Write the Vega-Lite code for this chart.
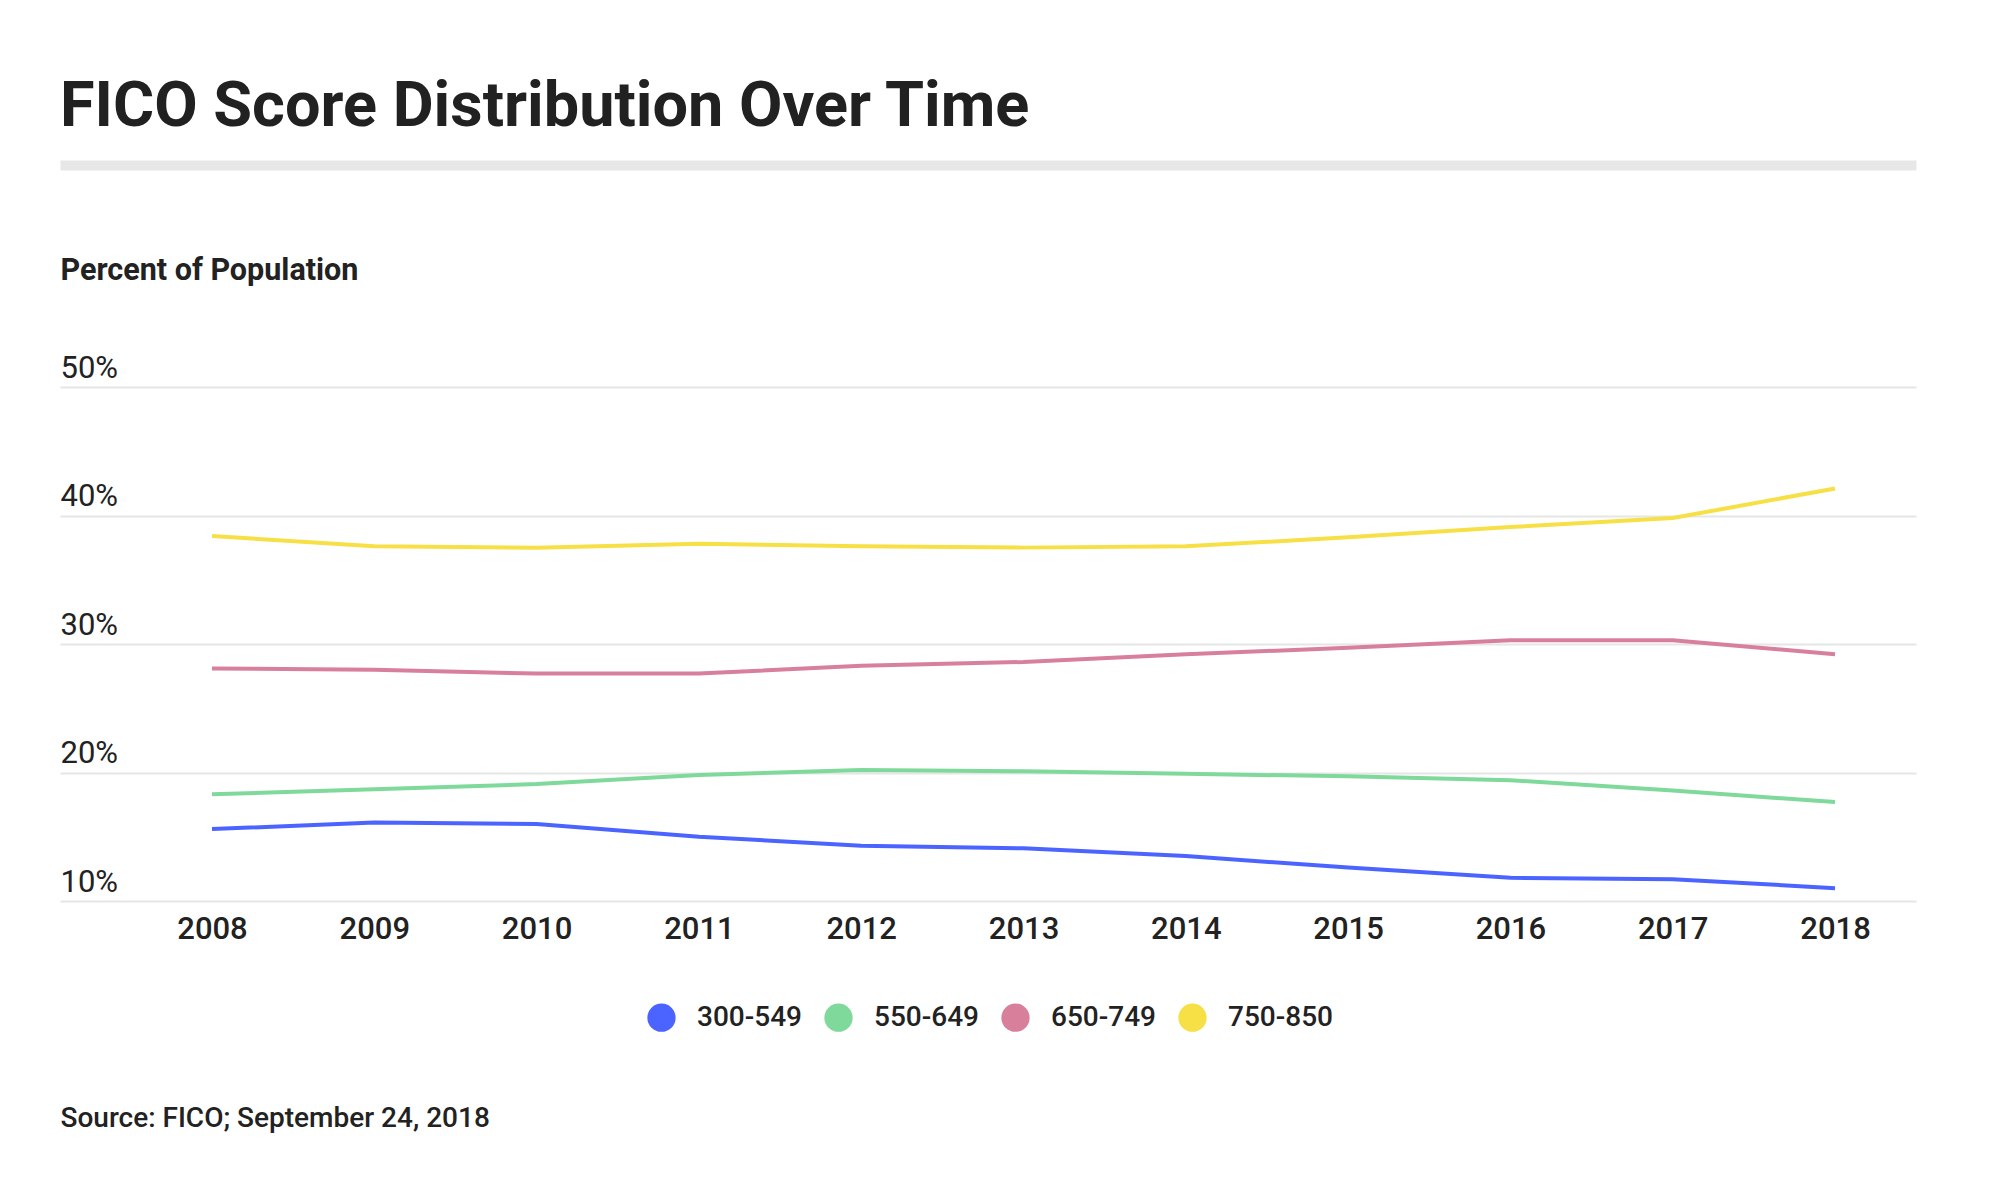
{
  "$schema": "https://vega.github.io/schema/vega-lite/v6.json",
  "width": 1856,
  "height": 514,
  "autosize": {"type": "none"},
  "padding": {"left": 60, "top": 387, "right": 84, "bottom": 297},
  "background": "white",
  "title": {
    "text": "FICO Score Distribution Over Time",
    "anchor": "start",
    "frame": "group",
    "font": "Roboto",
    "fontSize": 63,
    "fontWeight": 700,
    "color": "#212121",
    "baseline": "alphabetic",
    "offset": 33,
    "dy": 57
  },
  "config": {"view": {"stroke": null}, "font": "Roboto"},
  "data": {
    "values": [
      {"year": 2008, "range": "300-549", "pct": 15.6},
      {"year": 2009, "range": "300-549", "pct": 16.1},
      {"year": 2010, "range": "300-549", "pct": 16.0},
      {"year": 2011, "range": "300-549", "pct": 15.0},
      {"year": 2012, "range": "300-549", "pct": 14.3},
      {"year": 2013, "range": "300-549", "pct": 14.1},
      {"year": 2014, "range": "300-549", "pct": 13.5},
      {"year": 2015, "range": "300-549", "pct": 12.6},
      {"year": 2016, "range": "300-549", "pct": 11.8},
      {"year": 2017, "range": "300-549", "pct": 11.7},
      {"year": 2018, "range": "300-549", "pct": 11.0},
      {"year": 2008, "range": "550-649", "pct": 18.3},
      {"year": 2009, "range": "550-649", "pct": 18.7},
      {"year": 2010, "range": "550-649", "pct": 19.1},
      {"year": 2011, "range": "550-649", "pct": 19.8},
      {"year": 2012, "range": "550-649", "pct": 20.2},
      {"year": 2013, "range": "550-649", "pct": 20.1},
      {"year": 2014, "range": "550-649", "pct": 19.9},
      {"year": 2015, "range": "550-649", "pct": 19.7},
      {"year": 2016, "range": "550-649", "pct": 19.4},
      {"year": 2017, "range": "550-649", "pct": 18.6},
      {"year": 2018, "range": "550-649", "pct": 17.7},
      {"year": 2008, "range": "650-749", "pct": 28.1},
      {"year": 2009, "range": "650-749", "pct": 28.0},
      {"year": 2010, "range": "650-749", "pct": 27.7},
      {"year": 2011, "range": "650-749", "pct": 27.7},
      {"year": 2012, "range": "650-749", "pct": 28.3},
      {"year": 2013, "range": "650-749", "pct": 28.6},
      {"year": 2014, "range": "650-749", "pct": 29.2},
      {"year": 2015, "range": "650-749", "pct": 29.7},
      {"year": 2016, "range": "650-749", "pct": 30.3},
      {"year": 2017, "range": "650-749", "pct": 30.3},
      {"year": 2018, "range": "650-749", "pct": 29.2},
      {"year": 2008, "range": "750-850", "pct": 38.4},
      {"year": 2009, "range": "750-850", "pct": 37.6},
      {"year": 2010, "range": "750-850", "pct": 37.5},
      {"year": 2011, "range": "750-850", "pct": 37.8},
      {"year": 2012, "range": "750-850", "pct": 37.6},
      {"year": 2013, "range": "750-850", "pct": 37.5},
      {"year": 2014, "range": "750-850", "pct": 37.6},
      {"year": 2015, "range": "750-850", "pct": 38.3},
      {"year": 2016, "range": "750-850", "pct": 39.1},
      {"year": 2017, "range": "750-850", "pct": 39.8},
      {"year": 2018, "range": "750-850", "pct": 42.1}
    ]
  },
  "layer": [
    {
      "mark": {"type": "line", "strokeWidth": 4},
      "encoding": {
        "x": {
          "field": "year",
          "type": "quantitative",
          "scale": {"domain": [2007.0635, 2018.499], "nice": false, "zero": false},
          "axis": {
            "orient": "bottom",
            "values": [2008, 2009, 2010, 2011, 2012, 2013, 2014, 2015, 2016, 2017, 2018],
            "format": "d",
            "grid": false,
            "domain": false,
            "ticks": false,
            "tickSize": 0,
            "labelPadding": 13,
            "labelFlush": false,
            "labelFont": "Roboto",
            "labelFontSize": 31,
            "labelFontWeight": 500,
            "labelColor": "#222222",
            "title": "Source: FICO; September 24, 2018",
            "titleFont": "Roboto",
            "titleFontSize": 28,
            "titleFontWeight": 500,
            "titleColor": "#222222",
            "titleX": 0,
            "titleY": 225,
            "titleAlign": "left",
            "titleAnchor": "start",
            "titleBaseline": "alphabetic"
          }
        },
        "y": {
          "field": "pct",
          "type": "quantitative",
          "scale": {"domain": [10, 50], "nice": false, "zero": false},
          "axis": {
            "values": [10, 20, 30, 40, 50],
            "labelExpr": "datum.value + '%'",
            "grid": true,
            "gridColor": "#e6e6e6",
            "gridWidth": 2,
            "domain": false,
            "ticks": false,
            "tickSize": 0,
            "labelAlign": "left",
            "labelBaseline": "alphabetic",
            "labelPadding": 0,
            "labelOffset": -10,
            "labelFont": "Roboto",
            "labelFontSize": 31,
            "labelFontWeight": 400,
            "labelColor": "#222222",
            "title": "Percent of Population",
            "titleAngle": 0,
            "titleAlign": "left",
            "titleBaseline": "alphabetic",
            "titleX": 0,
            "titleY": -108,
            "titleFont": "Roboto",
            "titleFontSize": 30.5,
            "titleFontWeight": 700,
            "titleColor": "#222222"
          }
        },
        "color": {
          "field": "range",
          "type": "nominal",
          "scale": {
            "domain": ["300-549", "550-649", "650-749", "750-850"],
            "range": ["#4c64ff", "#7fd99a", "#d87f9c", "#f6e045"]
          },
          "legend": {
            "orient": "none",
            "legendX": 587,
            "legendY": 616,
            "direction": "horizontal",
            "title": null,
            "symbolType": "circle",
            "symbolSize": 800,
            "symbolStrokeWidth": 0,
            "symbolOpacity": 1,
            "labelFont": "Roboto",
            "labelFontSize": 28,
            "labelFontWeight": 500,
            "labelColor": "#222222",
            "labelOffset": 21,
            "columnPadding": 22,
            "encode": {
              "symbols": {
                "update": {
                  "fill": {"scale": "color", "field": "value"},
                  "strokeWidth": {"value": 0}
                }
              }
            }
          }
        }
      }
    },
    {
      "mark": {"type": "point", "opacity": 0},
      "encoding": {
        "x": {
          "field": "year",
          "type": "quantitative",
          "axis": {
            "orient": "top",
            "offset": 222,
            "domain": true,
            "domainColor": "#e7e7e7",
            "domainWidth": 10,
            "labels": false,
            "ticks": false,
            "grid": false,
            "title": null
          }
        }
      }
    }
  ],
  "resolve": {"axis": {"x": "independent"}}
}
